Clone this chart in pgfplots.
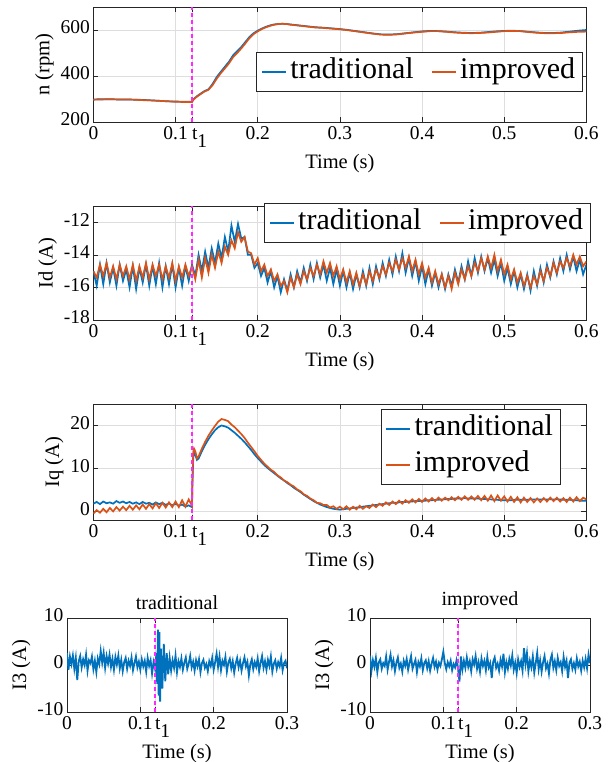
\documentclass[border=0pt]{standalone}
\usepackage{fontspec}
\setmainfont{Liberation Serif}
\usepackage{pgfplots}
\pgfplotsset{compat=1.18}
\usepackage{pgfplotstable}

\definecolor{mblue}{rgb}{0,0.447,0.741}
\definecolor{morange}{rgb}{0.85,0.325,0.098}
\definecolor{tmark}{RGB}{255,40,255}

% speed n (rpm)
\pgfplotstableread{
t trad impr
0.00 298 297
0.01 299 298
0.02 299 299
0.03 298 298
0.04 298 298
0.05 297 297
0.06 296 295
0.07 294 294
0.08 292 292
0.09 290 290
0.10 289 288
0.11 288 287
0.12 288 287
0.122 300 298
0.126 312 310
0.13 322 320
0.135 334 332
0.14 342 340
0.145 365 360
0.15 395 388
0.155 418 412
0.16 440 433
0.165 462 455
0.17 490 482
0.175 508 500
0.18 526 520
0.185 548 542
0.19 570 565
0.195 586 582
0.20 597 594
0.205 606 604
0.21 614 612
0.215 620 618
0.22 624 623
0.225 626 626
0.23 627 627
0.235 626 626
0.24 624 623
0.25 620 619
0.26 616 615
0.27 612 611
0.28 610 609
0.29 607 606
0.30 604 603
0.31 600 599
0.32 595 594
0.33 590 589
0.34 585 584
0.35 581 580
0.36 580 579
0.37 582 581
0.38 586 585
0.39 590 589
0.40 594 592
0.41 596 595
0.42 595 595
0.43 593 592
0.44 590 589
0.45 588 587
0.46 587 586
0.47 588 587
0.48 591 589
0.49 594 592
0.50 596 595
0.51 597 596
0.52 595 595
0.53 592 591
0.54 589 588
0.55 587 586
0.56 587 586
0.57 589 587
0.58 593 590
0.59 597 592
0.60 600 593
}\speed

% Id (A)
\pgfplotstableread{
t trad impr
0.000 -15.0 -15.0
0.004 -15.9 -15.4
0.008 -14.6 -14.6
0.012 -15.8 -15.3
0.016 -14.5 -14.5
0.020 -15.7 -15.4
0.024 -14.8 -14.7
0.028 -15.9 -15.5
0.032 -14.6 -14.6
0.036 -15.6 -15.3
0.040 -14.9 -14.7
0.044 -16.0 -15.5
0.048 -14.7 -14.6
0.052 -16.1 -15.6
0.056 -14.8 -14.7
0.060 -15.7 -15.4
0.064 -14.6 -14.5
0.068 -15.9 -15.5
0.072 -14.7 -14.6
0.076 -15.8 -15.3
0.080 -14.5 -14.6
0.084 -16.0 -15.5
0.088 -14.7 -14.7
0.092 -15.8 -15.4
0.096 -14.6 -14.5
0.100 -16.0 -15.6
0.104 -14.8 -14.7
0.108 -15.9 -15.4
0.112 -14.7 -14.6
0.116 -15.6 -15.3
0.120 -14.6 -14.7
0.124 -15.3 -15.5
0.128 -14.0 -14.3
0.132 -15.0 -15.4
0.136 -13.8 -14.2
0.140 -14.8 -15.1
0.144 -13.6 -14.0
0.148 -14.5 -14.8
0.152 -13.3 -13.8
0.156 -14.2 -14.5
0.160 -12.9 -13.5
0.164 -13.8 -14.0
0.168 -12.2 -13.1
0.172 -13.2 -13.6
0.176 -12.1 -12.6
0.180 -13.0 -13.2
0.184 -12.9 -12.9
0.188 -14.0 -13.8
0.192 -14.0 -13.9
0.196 -14.8 -14.6
0.200 -14.5 -14.2
0.204 -15.3 -15.0
0.208 -14.8 -14.6
0.212 -15.7 -15.3
0.216 -15.0 -14.9
0.220 -16.0 -15.6
0.224 -15.3 -15.2
0.228 -16.3 -15.9
0.232 -15.5 -15.6
0.236 -16.2 -16.3
0.240 -15.2 -15.4
0.244 -16.0 -16.0
0.248 -15.0 -15.2
0.252 -15.7 -15.8
0.256 -14.8 -15.0
0.260 -15.6 -15.5
0.264 -14.6 -14.8
0.268 -15.5 -15.3
0.272 -14.5 -14.6
0.276 -15.4 -15.2
0.280 -14.6 -14.4
0.284 -15.6 -15.1
0.288 -14.8 -14.5
0.292 -15.8 -15.3
0.296 -14.9 -14.7
0.300 -15.9 -15.5
0.304 -15.0 -14.9
0.308 -16.0 -15.7
0.312 -15.1 -15.0
0.316 -16.1 -15.8
0.320 -15.2 -15.1
0.324 -16.0 -15.9
0.328 -15.0 -15.2
0.332 -15.9 -15.8
0.336 -14.8 -15.0
0.340 -15.8 -15.6
0.344 -14.7 -14.9
0.348 -15.5 -15.4
0.352 -14.5 -14.7
0.356 -15.3 -15.2
0.360 -14.3 -14.5
0.364 -15.2 -15.0
0.368 -14.1 -14.3
0.372 -15.0 -14.9
0.376 -13.9 -14.2
0.380 -15.1 -14.8
0.384 -14.2 -14.1
0.388 -15.3 -15.0
0.392 -14.4 -14.3
0.396 -15.6 -15.2
0.400 -14.7 -14.5
0.404 -15.8 -15.4
0.408 -14.9 -14.8
0.412 -15.9 -15.7
0.416 -15.1 -15.0
0.420 -16.0 -15.8
0.424 -15.2 -15.2
0.428 -16.1 -16.0
0.432 -15.2 -15.3
0.436 -15.9 -16.1
0.440 -14.9 -15.1
0.444 -15.7 -15.8
0.448 -14.7 -14.9
0.452 -15.5 -15.5
0.456 -14.4 -14.7
0.460 -15.3 -15.3
0.464 -14.2 -14.5
0.468 -15.1 -15.0
0.472 -14.1 -14.2
0.476 -15.0 -14.9
0.480 -14.2 -14.1
0.484 -15.1 -14.8
0.488 -14.3 -14.0
0.492 -15.3 -15.0
0.496 -14.5 -14.3
0.500 -15.6 -15.2
0.504 -14.8 -14.6
0.508 -15.8 -15.5
0.512 -15.0 -14.9
0.516 -16.0 -15.7
0.520 -15.2 -15.1
0.524 -16.1 -15.9
0.528 -15.2 -15.3
0.532 -16.2 -16.0
0.536 -15.0 -15.3
0.540 -15.9 -15.8
0.544 -14.8 -15.0
0.548 -15.7 -15.6
0.552 -14.6 -14.8
0.556 -15.4 -15.3
0.560 -14.4 -14.5
0.564 -15.2 -15.1
0.568 -14.2 -14.4
0.572 -15.0 -14.8
0.576 -14.0 -14.2
0.580 -14.9 -14.7
0.584 -14.1 -14.0
0.588 -15.0 -14.6
0.592 -14.3 -14.1
0.596 -15.2 -14.7
0.600 -14.6 -14.4
}\idtab

% Iq (A)
\pgfplotstableread{
t trad impr
0.000 1.8 -0.5
0.004 2.2 0.3
0.008 1.7 -0.3
0.012 2.3 0.6
0.016 1.9 -0.2
0.020 2.1 0.8
0.024 1.8 0.0
0.028 2.4 1.0
0.032 2.0 0.2
0.036 2.3 1.1
0.040 1.9 0.3
0.044 2.2 1.3
0.048 1.8 0.4
0.052 2.1 1.4
0.056 1.7 0.5
0.060 2.2 1.6
0.064 1.8 0.6
0.068 2.0 1.7
0.072 1.6 0.7
0.076 2.1 1.9
0.080 1.7 0.8
0.084 2.0 2.0
0.088 1.5 0.9
0.092 1.9 2.1
0.096 1.4 1.0
0.100 1.8 2.3
0.104 1.3 1.0
0.108 1.6 2.6
0.112 1.1 1.1
0.116 1.4 2.8
0.120 1.0 1.3
0.1205 6.0 7.0
0.1215 12.5 13.5
0.1225 14.0 14.6
0.124 13.2 14.0
0.126 12.0 12.4
0.128 12.3 12.8
0.132 14.0 14.6
0.136 15.5 16.2
0.140 16.8 17.6
0.144 17.9 18.8
0.148 18.9 19.9
0.152 19.6 20.9
0.156 20.0 21.5
0.160 19.8 21.3
0.164 19.5 21.0
0.168 18.9 20.2
0.172 18.3 19.6
0.176 17.6 18.8
0.180 16.9 18.0
0.184 16.1 17.1
0.188 15.2 16.0
0.192 14.3 15.0
0.196 13.3 14.0
0.200 12.4 12.9
0.204 11.6 12.0
0.208 10.8 11.1
0.212 10.1 10.4
0.216 9.5 9.7
0.220 8.9 9.2
0.224 8.3 8.4
0.228 7.7 7.9
0.232 7.2 7.2
0.236 6.6 6.8
0.240 6.1 6.2
0.244 5.5 5.8
0.248 5.0 5.1
0.252 4.5 4.7
0.256 3.9 4.0
0.260 3.4 3.6
0.264 2.9 3.0
0.268 2.4 2.6
0.272 2.0 2.0
0.276 1.6 1.9
0.280 1.3 1.5
0.284 1.0 1.5
0.288 0.8 0.9
0.292 0.6 1.2
0.296 0.5 0.6
0.300 0.4 1.1
0.304 0.5 0.5
0.308 0.6 1.2
0.312 0.7 0.4
0.316 0.8 1.1
0.320 0.9 0.5
0.324 0.9 1.3
0.328 1.1 0.6
0.332 1.2 1.2
0.336 1.3 0.8
0.340 1.4 1.6
0.344 1.5 1.0
0.348 1.6 1.8
0.352 1.7 1.3
0.356 1.8 2.1
0.360 1.9 1.5
0.364 2.0 2.3
0.368 2.0 1.7
0.372 2.1 2.5
0.376 2.2 1.8
0.380 2.2 2.6
0.384 2.3 2.0
0.388 2.3 2.8
0.392 2.4 2.1
0.396 2.4 2.9
0.400 2.5 2.2
0.404 2.5 3.0
0.408 2.6 2.3
0.412 2.6 3.1
0.416 2.7 2.4
0.420 2.7 3.2
0.424 2.8 2.5
0.428 2.8 3.2
0.432 2.9 2.6
0.436 2.9 3.3
0.440 3.0 2.6
0.444 3.0 3.4
0.448 3.0 2.7
0.452 3.1 3.5
0.456 3.0 2.7
0.460 3.0 3.5
0.464 3.0 2.7
0.468 3.0 3.6
0.472 2.9 2.6
0.476 2.9 3.6
0.480 2.8 2.5
0.484 2.8 3.7
0.488 2.7 2.4
0.492 2.7 3.7
0.496 2.6 2.5
0.500 2.6 3.5
0.504 2.6 2.3
0.508 2.6 3.4
0.512 2.7 2.2
0.516 2.7 3.3
0.520 2.7 2.1
0.524 2.7 3.2
0.528 2.7 2.2
0.532 2.8 3.1
0.536 2.8 2.1
0.540 2.8 3.0
0.544 2.8 2.2
0.548 2.8 3.1
0.552 2.8 2.3
0.556 2.8 3.2
0.560 2.8 2.4
0.564 2.8 3.2
0.568 2.8 2.3
0.572 2.7 3.1
0.576 2.7 2.2
0.580 2.7 3.2
0.584 2.6 2.3
0.588 2.6 3.3
0.592 2.5 2.4
0.596 2.5 3.2
0.600 2.5 2.8
}\iqtab

% I3 (A), traditional
\pgfplotstableread{
t i3
0.000 2.5
0.002 -1.0
0.004 1.8
0.006 0.2
0.008 2.0
0.010 -0.8
0.012 1.5
0.014 -3.2
0.016 0.8
0.018 1.9
0.020 -0.5
0.022 1.2
0.024 0.0
0.026 2.2
0.028 -1.2
0.030 1.0
0.032 0.4
0.034 1.8
0.036 -0.9
0.038 0.9
0.040 -1.5
0.042 1.4
0.044 0.2
0.046 3.0
0.048 0.5
0.050 2.6
0.052 -0.6
0.054 1.9
0.056 0.3
0.058 2.2
0.060 -0.4
0.062 1.3
0.064 -1.0
0.066 1.7
0.068 0.1
0.070 2.0
0.072 -0.7
0.074 1.1
0.076 -1.3
0.078 0.6
0.080 1.5
0.082 -0.8
0.084 0.9
0.086 -0.2
0.088 1.6
0.090 -1.1
0.092 0.4
0.094 1.8
0.096 -0.5
0.098 0.7
0.100 -1.0
0.102 1.2
0.104 -0.3
0.106 0.9
0.108 -1.4
0.110 1.5
0.112 -0.2
0.114 1.0
0.116 -1.8
0.118 0.6
0.120 -0.8
0.122 2.5
0.123 -4.0
0.124 7.5
0.125 -6.5
0.126 7.0
0.127 -7.8
0.128 3.5
0.130 -5.0
0.132 4.5
0.134 -3.5
0.136 2.5
0.138 -2.0
0.140 1.5
0.142 -1.2
0.144 1.0
0.146 -0.6
0.148 2.0
0.150 -1.5
0.152 0.8
0.154 -0.4
0.156 1.4
0.158 -1.0
0.160 0.5
0.162 1.6
0.164 -0.8
0.166 0.3
0.168 1.9
0.170 -0.5
0.172 0.7
0.174 -1.2
0.176 1.0
0.178 -0.3
0.180 1.2
0.182 -1.5
0.184 0.4
0.186 1.1
0.188 -0.6
0.190 0.2
0.192 -1.3
0.194 0.8
0.196 -0.2
0.198 1.5
0.200 -1.0
0.202 0.6
0.204 2.4
0.206 -0.4
0.208 1.8
0.210 -1.1
0.212 0.9
0.214 0.0
0.216 1.7
0.218 -1.4
0.220 0.5
0.222 1.3
0.224 -0.7
0.226 0.8
0.228 -1.6
0.230 0.3
0.232 1.5
0.234 -0.5
0.236 0.9
0.238 -1.2
0.240 0.4
0.242 1.6
0.244 -0.3
0.246 0.7
0.248 -2.2
0.250 0.2
0.252 1.2
0.254 -0.9
0.256 0.6
0.258 -0.4
0.260 1.4
0.262 -1.3
0.264 0.5
0.266 1.9
0.268 -0.6
0.270 0.8
0.272 -1.0
0.274 1.1
0.276 -0.2
0.278 1.8
0.280 -1.4
0.282 0.3
0.284 1.0
0.286 -0.8
0.288 0.6
0.290 -0.3
0.292 1.5
0.294 -1.1
0.296 0.4
0.298 0.9
0.300 -0.7
}\ithreetrad

% I3 (A), improved
\pgfplotstableread{
t i3
0.000 2.0
0.002 -1.2
0.004 1.0
0.006 -0.4
0.008 1.5
0.010 -1.5
0.012 0.6
0.014 1.2
0.016 -0.8
0.018 0.4
0.020 -0.2
0.022 1.8
0.024 -1.0
0.026 0.7
0.028 2.2
0.030 -0.3
0.032 1.0
0.034 -1.3
0.036 0.5
0.038 1.6
0.040 -0.6
0.042 0.3
0.044 -1.4
0.046 0.9
0.048 -0.2
0.050 1.3
0.052 -1.0
0.054 0.5
0.056 1.9
0.058 -0.8
0.060 0.2
0.062 1.1
0.064 -1.5
0.066 0.6
0.068 -0.3
0.070 1.4
0.072 -1.1
0.074 0.4
0.076 1.0
0.078 -0.7
0.080 0.8
0.082 -1.2
0.084 0.3
0.086 1.5
0.088 -0.4
0.090 0.7
0.092 -1.0
0.094 0.5
0.096 -0.2
0.098 1.2
0.100 2.8
0.102 0.4
0.104 -0.9
0.106 0.6
0.108 -0.3
0.110 0.9
0.112 -1.1
0.114 0.2
0.116 -0.5
0.118 1.0
0.120 -0.7
0.122 -3.5
0.124 1.8
0.126 -1.0
0.128 0.9
0.130 -0.6
0.132 1.6
0.134 -0.4
0.136 0.8
0.138 -1.3
0.140 1.2
0.142 0.1
0.144 1.9
0.146 -0.8
0.148 0.6
0.150 -1.4
0.152 1.4
0.154 -0.2
0.156 0.9
0.158 -1.1
0.160 1.7
0.162 -0.5
0.164 0.4
0.166 -2.8
0.168 0.7
0.170 1.6
0.172 -0.6
0.174 0.3
0.176 -1.2
0.178 1.1
0.180 -0.3
0.182 2.4
0.184 -1.5
0.186 0.6
0.188 -0.8
0.190 1.3
0.192 -0.1
0.194 2.0
0.196 -1.0
0.198 0.5
0.200 -1.7
0.202 1.2
0.204 -0.4
0.206 0.8
0.208 -1.2
0.210 3.6
0.212 0.2
0.214 2.5
0.216 -1.3
0.218 0.9
0.220 -0.5
0.222 1.8
0.224 -1.6
0.226 0.4
0.228 2.6
0.230 -0.9
0.232 1.0
0.234 -1.4
0.236 0.6
0.238 1.9
0.240 -0.7
0.242 0.3
0.244 -1.8
0.246 1.1
0.248 2.2
0.250 -0.6
0.252 0.8
0.254 -1.1
0.256 1.5
0.258 -0.2
0.260 0.6
0.262 -1.3
0.264 1.7
0.266 -0.4
0.268 0.9
0.270 -2.8
0.272 0.5
0.274 1.2
0.276 -0.8
0.278 0.4
0.280 -1.0
0.282 1.4
0.284 -0.3
0.286 0.7
0.288 -1.2
0.290 0.9
0.292 -0.5
0.294 1.3
0.296 -0.7
0.298 2.2
0.300 0.4
}\ithreeimpr

\newcommand{\tone}{\makebox[0pt][l]{t\raisebox{-0.42em}{1}}}

\pgfplotsset{
  matlab/.style={
    scale only axis,
    axis line style={black!85, line width=0.7pt},
    tick align=inside,
    major tick length=5pt,
    tick style={black!85, line width=0.6pt},
    grid=major,
    major grid style={black!13, line width=0.6pt},
    tick label style={font=\rmfamily\fontsize{19.5}{20}\selectfont},
    label style={font=\rmfamily\fontsize{20.5}{22}\selectfont},
    /pgf/number format/assume math mode=true,
    typeset ticklabels with strut,
    legend cell align=left,
    legend style={font=\rmfamily\fontsize{30}{32}\selectfont, draw=black!85,
      line width=0.7pt, fill=white, inner xsep=4pt, inner ysep=3pt,
      nodes={inner sep=3pt, text height=20pt, text depth=7pt}},
    legend image code/.code={\draw[#1, line width=2.5pt] (0pt,0pt) -- (24pt,0pt);},
  },
  topx/.style={xmin=0, xmax=0.6,
    xtick={0,0.1,0.12,0.2,0.3,0.4,0.5,0.6},
    xticklabels={0,0.1,\tone,0.2,0.3,0.4,0.5,0.6},
    xlabel={Time (s)}},
  botx/.style={xmin=0, xmax=0.3,
    xtick={0,0.1,0.12,0.2,0.3},
    xticklabels={0,0.1,\tone,0.2,0.3},
    xlabel={Time (s)}, ylabel={I3 (A)},
    ymin=-10, ymax=10, ytick={-10,0,10},
    title style={font=\rmfamily\fontsize{20}{22}\selectfont, inner sep=2pt}},
}
\tikzset{t1line/.style={draw={rgb,255:red,255;green,40;blue,255}, line width=1.6pt, dash pattern=on 4pt off 3pt}}

\begin{document}
\begin{tikzpicture}
\path[use as bounding box] (0pt,0pt) rectangle (613pt,762pt);

% n
\begin{axis}[matlab, topx, at={(93.4pt,640pt)}, anchor=south west,
  width=493pt, height=115pt,
  ymin=200, ymax=700, ytick={200,400,600}, ylabel={n (rpm)},
  legend columns=2,
  legend style={at={(0.992,0.609)}, anchor=north east,
    /tikz/every even column/.append style={column sep=14pt}}]
\addplot[mblue, line width=1.7pt] table[x=t, y=trad] {\speed};
\addlegendentry{traditional}
\addplot[morange, line width=1.7pt] table[x=t, y=impr] {\speed};
\addlegendentry{improved}
\draw[t1line] (axis cs:0.12,200) -- (axis cs:0.12,700);
\end{axis}

% Id
\begin{axis}[matlab, topx, at={(93.4pt,442pt)}, anchor=south west,
  width=493pt, height=114pt,
  ymin=-18, ymax=-11, ytick={-18,-16,-14,-12}, ylabel={Id (A)},
  legend columns=2,
  legend style={at={(1.008,1.026)}, anchor=north east,
    /tikz/every even column/.append style={column sep=14pt}}]
\addplot[mblue, line width=1.7pt] table[x=t, y=trad] {\idtab};
\addlegendentry{traditional}
\addplot[morange, line width=1.7pt] table[x=t, y=impr] {\idtab};
\addlegendentry{improved}
\draw[t1line] (axis cs:0.12,-18) -- (axis cs:0.12,-11);
\end{axis}

% Iq
\begin{axis}[matlab, topx, at={(93.4pt,242pt)}, anchor=south west,
  width=493pt, height=116pt,
  ymin=-2, ymax=25, ytick={0,10,20}, ylabel={Iq (A)},
  legend style={at={(0.947,0.957)}, anchor=north east,
    /tikz/every odd row/.append style={row sep=3pt}}]
\addplot[mblue, line width=1.7pt] table[x=t, y=trad] {\iqtab};
\addlegendentry{tranditional}
\addplot[morange, line width=1.7pt] table[x=t, y=impr] {\iqtab};
\addlegendentry{improved}
\draw[t1line] (axis cs:0.12,-2) -- (axis cs:0.12,25);
\end{axis}

% I3 traditional
\begin{axis}[matlab, botx, at={(67pt,50pt)}, anchor=south west,
  width=220pt, height=94pt, title={traditional}]
\addplot[mblue, line width=1.8pt] table[x=t, y=i3] {\ithreetrad};
\draw[t1line] (axis cs:0.12,-10) -- (axis cs:0.12,10);
\end{axis}

% I3 improved
\begin{axis}[matlab, botx, at={(370pt,50pt)}, anchor=south west,
  width=220pt, height=94pt, title={improved}]
\addplot[mblue, line width=1.8pt] table[x=t, y=i3] {\ithreeimpr};
\draw[t1line] (axis cs:0.12,-10) -- (axis cs:0.12,10);
\end{axis}
\end{tikzpicture}
\end{document}
